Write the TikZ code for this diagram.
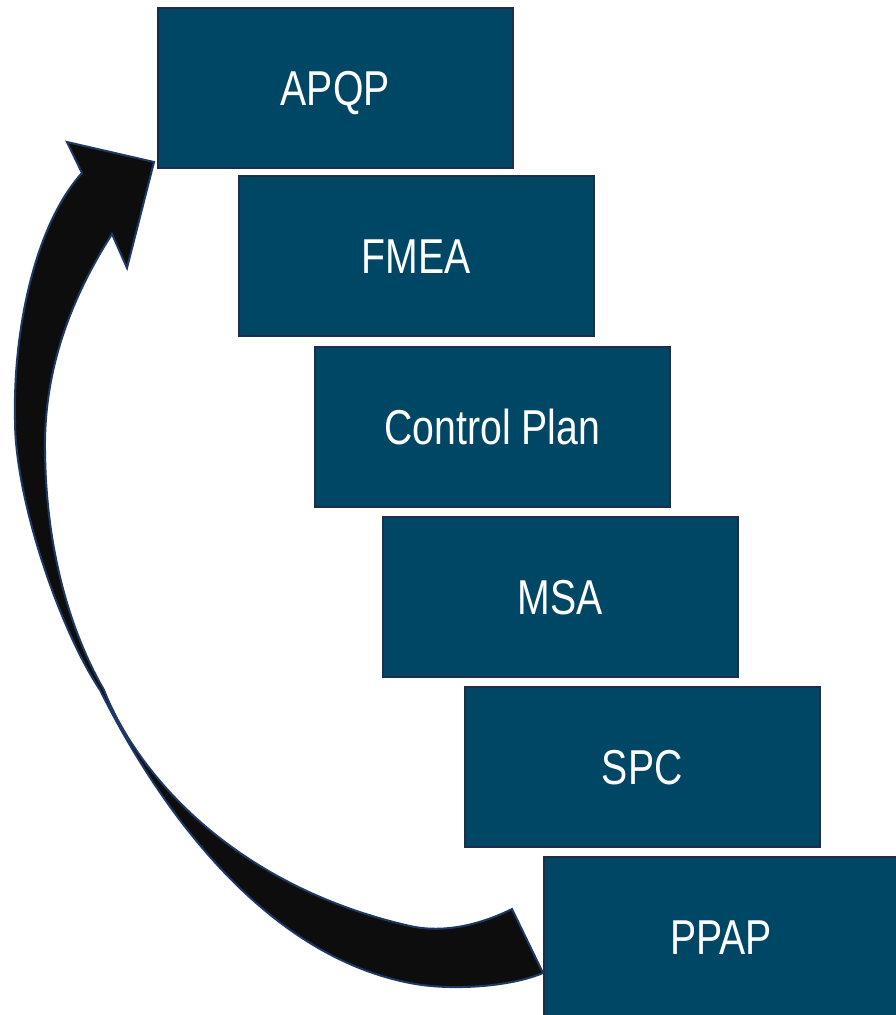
\documentclass[tikz,border=0pt]{standalone}
\usepackage{fontspec}
\newfontfamily\labelfont[FakeStretch=0.8]{Liberation Sans}
\definecolor{boxfill}{RGB}{0,71,102}
\definecolor{boxline}{RGB}{30,45,75}
\definecolor{arrowfill}{RGB}{13,13,13}
\definecolor{arrowline}{RGB}{31,56,100}
\tikzset{
  stepbox/.style={draw=boxline, line width=1.5pt, fill=boxfill,
    minimum width=355pt, minimum height=160pt, anchor=north west,
    inner sep=0pt, text height=35pt, text depth=0pt, text=white,
    font=\labelfont\fontsize{49}{49}\selectfont},
  looparrow/.style={draw=arrowline, line width=2pt, fill=arrowfill, line join=miter}
}
\begin{document}
\begin{tikzpicture}[x=1pt,y=-1pt]
\useasboundingbox (0,0) rectangle (896,1015);

% the six steps, stepping down to the right
\node[stepbox] (apqp) at (157,7)   {APQP};
\node[stepbox] (fmea) at (238,175) {FMEA};
\node[stepbox] (cp)   at (314,346) {Control Plan};
\node[stepbox] (msa)  at (382,516) {MSA};
\node[stepbox] (spc)  at (464,686) {SPC};
\node[stepbox] (ppap) at (543,856) {PPAP};

% return arrow from PPAP back to APQP: a band that pinches near its middle
\coordinate (tip) at (154,162);
\coordinate (tailtop) at (512,909);
\coordinate (tailbot) at (543,973);
\draw[looparrow]
  (tailtop) -- (tailbot)
  .. controls (510,987) and (450,991) .. (410,983)
  .. controls (240,950) and (135,760) .. (100,690)
  .. controls (60,630) and (15,500) .. (15,420)
  .. controls (13,330) and (35,225) .. (82,173)
  -- (67,142) -- (tip) -- (127,268) -- (112,234)
  .. controls (70,300) and (44,370) .. (45,450)
  .. controls (46,560) and (75,640) .. (104,690)
  .. controls (135,770) and (230,885) .. (410,926)
  .. controls (450,935) and (490,920) .. (tailtop)
  -- cycle;
\end{tikzpicture}
\end{document}
